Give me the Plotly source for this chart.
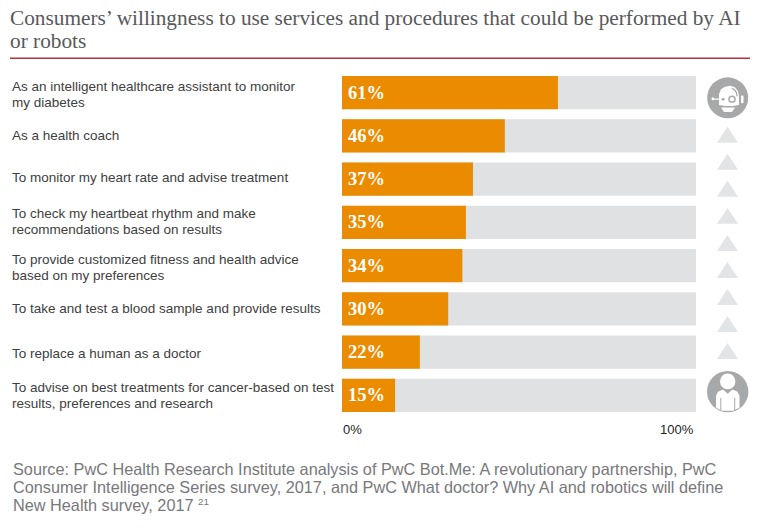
# Consumers' willingness chart (horizontal bars on a grey 100% track)
import plotly.graph_objects as go

W, H = 761, 528

categories = [
    "As an intelligent healthcare assistant to monitor<br>my diabetes",
    "As a health coach",
    "To monitor my heart rate and advise treatment",
    "To check my heartbeat rhythm and make<br>recommendations based on results",
    "To provide customized fitness and health advice<br>based on my preferences",
    "To take and test a blood sample and provide results",
    "To replace a human as a doctor",
    "To advise on best treatments for cancer-based on test<br>results, preferences and research",
]
values = [61, 46, 37, 35, 34, 30, 22, 15]
track = [100] * len(values)
axis_labels = ["0%", "100%"]
title_lines = [
    "Consumers’ willingness to use services and procedures that could be performed by AI",
    "or robots",
]
source_lines = [
    "Source: PwC Health Research Institute analysis of PwC Bot.Me: A revolutionary partnership, PwC",
    "Consumer Intelligence Series survey, 2017, and PwC What doctor? Why AI and robotics will define",
    "New Health survey, 2017 <span style=\"font-size:14px\"><sup>21</sup></span>",
]

ORANGE = "#eb8c00"
TRACK = "#e0e1e3"
ICON = "#a7a8aa"
TRI = "#e3e4e5"
SANS = "Liberation Sans"
SERIF = "Liberation Serif"

# plot area in pixels
L, R, T, B = 342, 696, 70.85, 417.15
# row labels do not sit exactly on the bar centres in the original
label_nudge = [4, 2, 0, 1, 4, 2, 3, 2]


def px(x):
    return (x - L) / (R - L)


def py(y):
    return (B - y) / (B - T)


def path(points, close=True):
    d = "M " + " L ".join(f"{px(x):.5f},{py(y):.5f}" for x, y in points)
    return d + (" Z" if close else "")


def paper_shape(kind, x0, y0, x1, y1, color, line=None, width=0):
    return dict(type=kind, xref="paper", yref="paper", x0=px(x0), x1=px(x1), y0=py(y0), y1=py(y1),
                fillcolor=color, line=dict(color=line or color, width=width), layer="above")


def paper_path(points, color):
    return dict(type="path", xref="paper", yref="paper", path=path(points), fillcolor=color,
                line=dict(width=0), layer="above")


fig = go.Figure()
fig.add_trace(go.Bar(y=categories, x=track, orientation="h", marker=dict(color=TRACK, line=dict(width=0)),
                     hoverinfo="skip", showlegend=False))
fig.add_trace(go.Bar(y=categories, x=values, orientation="h", marker=dict(color=ORANGE, line=dict(width=0)),
                     showlegend=False))

shapes = []
# rule under the title
shapes.append(dict(type="line", xref="paper", yref="paper", x0=px(10), x1=px(750), y0=py(58), y1=py(58),
                   line=dict(color="#b8303a", width=1.5)))

# triangles between the two icons
for i in range(9):
    top = 126.7 + i * 27.05
    shapes.append(paper_path([(727.5, top), (738, top + 16), (717, top + 16)], TRI))

# robot icon
shapes.append(paper_shape("circle", 707.2, 77.2, 748.2, 118.2, ICON))
shapes.append(paper_path([(719, 105), (719, 94), (721, 89), (725, 86.5), (730, 85.5), (735, 87), (738, 91),
                          (739, 96), (739, 105), (733, 106), (725, 106)], "#ffffff"))
shapes.append(paper_path([(732, 87.5), (735, 89), (737, 92), (737.6, 96), (736.4, 96), (735.8, 92.5), (734, 90),
                          (731.5, 88.7)], ICON))
shapes.append(paper_shape("circle", 721.6, 97.5, 724.6, 100.5, ICON))
shapes.append(paper_shape("circle", 729, 96, 735, 102, "#ffffff", ICON, 1.5))
shapes.append(paper_shape("rect", 712, 98.4, 719, 99.6, "#ffffff"))
shapes.append(paper_shape("circle", 711.5, 97.2, 714, 100.2, "#ffffff"))
shapes.append(paper_shape("rect", 741, 95.5, 743.5, 103, "#ffffff"))
shapes.append(paper_path([(721, 107.5), (735, 107.5), (732, 112), (724, 112)], "#ffffff"))

# person icon
shapes.append(paper_shape("circle", 707, 371, 748.4, 412.4, ICON))
shapes.append(paper_path([(716, 408), (716, 396), (718, 392), (723, 389.5), (727.7, 394), (732.5, 389.5),
                          (737.5, 392), (739.5, 396), (739.5, 408), (733, 411), (722, 411)], "#ffffff"))
shapes.append(paper_shape("rect", 720.3, 398, 721.3, 411, ICON))
shapes.append(paper_shape("rect", 734.2, 398, 735.2, 411, ICON))
shapes.append(paper_shape("circle", 720, 373.5, 735.4, 389.5, "#ffffff"))
fig.update_layout(shapes=shapes)

annotations = []
for i, line in enumerate(title_lines):
    annotations.append(dict(text=line, xref="paper", yref="paper", x=px(8), y=py(18 + i * 23),
                            xanchor="left", yanchor="middle", showarrow=False, align="left",
                            font=dict(family=SERIF, size=21.3, color="#58595b")))
for cat, val, nudge in zip(categories, values, label_nudge):
    # the source leading is tighter than plotly's, so each line is placed on its own
    parts = cat.split("<br>")
    for j, part in enumerate(parts):
        annotations.append(dict(text=part, xref="paper", yref="y", x=px(10), y=cat,
                                yshift=(len(parts) - 1) * 8 - j * 16 + 2 - nudge, xanchor="left", yanchor="middle",
                                showarrow=False, align="left", font=dict(family=SANS, size=13.5, color="#404041")))
    annotations.append(dict(text=f"<b>{val}%</b>", xref="x", yref="y", x=0, y=cat, xshift=4, xanchor="left",
                            yanchor="middle", showarrow=False, font=dict(family=SERIF, size=18.5, color="#ffffff")))
# axis end labels
annotations.append(dict(text=axis_labels[0], xref="x", yref="paper", x=0, y=py(430), xshift=-1, xanchor="left",
                        yanchor="middle", showarrow=False, font=dict(family=SANS, size=13, color="#231f20")))
annotations.append(dict(text=axis_labels[1], xref="x", yref="paper", x=100, y=py(430), xshift=0, xanchor="right",
                        yanchor="middle", showarrow=False, font=dict(family=SANS, size=13, color="#231f20")))
for i, line in enumerate(source_lines):
    annotations.append(dict(text=line, xref="paper", yref="paper", x=px(10.5), y=py(469 + i * 18), xanchor="left",
                            yanchor="middle", showarrow=False, align="left",
                            font=dict(family=SANS, size=16.27, color="#77787b")))

fig.update_layout(
    annotations=annotations,
    barmode="overlay",
    bargap=0.236,
    width=W,
    height=H,
    margin=dict(l=L, r=W - R, t=T, b=H - B, pad=0, autoexpand=False),
    paper_bgcolor="white",
    plot_bgcolor="white",
    font=dict(family=SANS),
)
fig.update_xaxes(range=[0, 100], visible=False)
fig.update_yaxes(autorange="reversed", showticklabels=False, ticks="", showline=False, showgrid=False, zeroline=False)

fig.write_html("out.html", config={"displayModeBar": False}, post_script="document.body.style.margin='0';")
